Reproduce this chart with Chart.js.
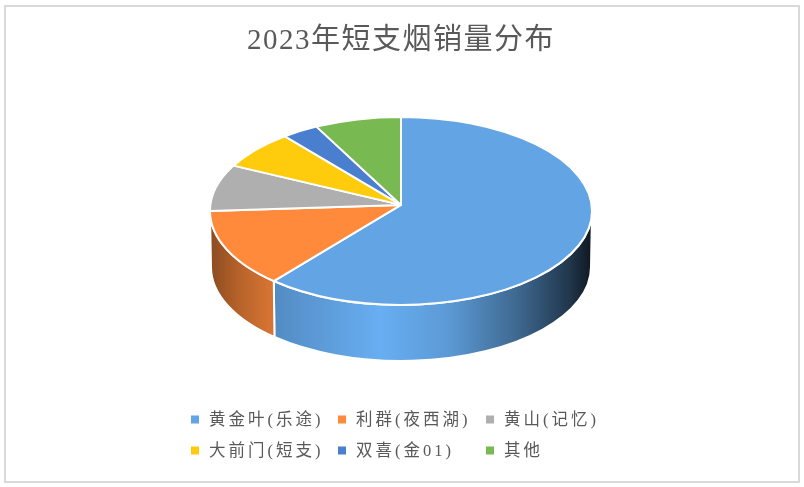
<!DOCTYPE html>
<html><head><meta charset="utf-8">
<style>
html,body{margin:0;padding:0;background:#fff;width:804px;height:487px;overflow:hidden}
#frame{position:absolute;left:4px;top:5px;width:796px;height:478px;border:2px solid #d9d9d9;box-sizing:border-box}
#wrap{position:absolute;left:0;top:0;width:804px;height:487px}
</style>
<script src="https://cdn.jsdelivr.net/npm/chart.js@4/dist/chart.umd.min.js"></script>
</head><body>
<div id="frame"></div>
<div id="wrap"><canvas id="c" width="804" height="487"></canvas></div>
<script>
const titleText = '2023年短支烟销量分布';
const categories = ['黄金叶(乐途)','利群(夜西湖)','黄山(记忆)','大前门(短支)','双喜(金01)','其他'];
const shares = [61.6, 13.4, 8.0, 6.6, 3.1, 7.3];
const colours = ['#62A4E4','#FF8A3C','#AFAFAF','#FFCB0D','#4A7ECF','#78B951'];
const FONT = '"Liberation Serif","Noto Sans CJK SC"';
const TEXT = '#595959';

const squash = 94 / 191, apexLift = 6, depth = 56, baseRx = 190;
const lightX = [211, 240, 273, 380, 450, 520, 570, 592];
const lightK = [.55, .72, .85, 1.06, .93, .62, .33, .14];
const legendCols = [191, 338, 486], legendRows = [421, 452];

function shade(hex, k) {
  const n = parseInt(hex.slice(1), 16);
  const f = v => Math.min(255, Math.round(v * k));
  return `rgb(${f(n >> 16)},${f((n >> 8) & 255)},${f(n & 255)})`;
}

const pie3d = {
  id: 'pie3d',
  beforeLayout(chart) { chart.ctx.letterSpacing = '1.5px'; },
  beforeDraw(chart) { chart.ctx.letterSpacing = '1.5px'; },
  beforeDatasetDraw(chart, args) {
    const ctx = chart.ctx, arcs = args.meta.data;
    ctx.save();
    ctx.lineJoin = 'round';
    ctx.strokeStyle = '#fff';
    ctx.lineWidth = 2;
    arcs.forEach((el, i) => {
      const a0 = Math.max(el.startAngle, 0), a1 = Math.min(el.endAngle, Math.PI);
      if (a1 <= a0) return;
      const r = el.outerRadius, ry = r * squash;
      const g = ctx.createLinearGradient(lightX[0], 0, lightX[lightX.length - 1], 0);
      const span = lightX[lightX.length - 1] - lightX[0];
      lightX.forEach((x, k) => g.addColorStop((x - lightX[0]) / span, shade(colours[i], lightK[k])));
      ctx.beginPath();
      ctx.ellipse(el.x, el.y, r, ry, 0, a0, a1);
      ctx.ellipse(el.x, el.y + depth, baseRx, ry, 0, a1, a0, true);
      ctx.closePath();
      ctx.fillStyle = g;
      ctx.fill();
      ctx.stroke();
    });
    arcs.forEach((el, i) => {
      const r = el.outerRadius;
      ctx.beginPath();
      ctx.moveTo(el.x, el.y - apexLift);
      ctx.ellipse(el.x, el.y, r, r * squash, 0, el.startAngle, el.endAngle);
      ctx.closePath();
      ctx.fillStyle = colours[i];
      ctx.fill();
      ctx.stroke();
    });
    ctx.restore();
    return false;
  },
  afterDraw(chart) {
    const ctx = chart.ctx;
    ctx.save();
    ctx.font = '16.5px ' + FONT;
    ctx.letterSpacing = '3px';
    ctx.textBaseline = 'middle';
    ctx.textAlign = 'left';
    chart.data.labels.forEach((label, i) => {
      const x = legendCols[i % 3], y = legendRows[Math.floor(i / 3)];
      ctx.fillStyle = colours[i];
      ctx.fillRect(x, y - 5.5, 8, 8);
      ctx.fillStyle = TEXT;
      ctx.fillText(label, x + 18, y);
    });
    ctx.restore();
  }
};

new Chart(document.getElementById('c'), {
  type: 'pie',
  data: { labels: categories, datasets: [{ data: shares, backgroundColor: colours, borderColor: '#fff', borderWidth: 2 }] },
  options: {
    responsive: false,
    animation: false,
    radius: 191,
    layout: { padding: { left: 0, right: 2, top: 0, bottom: 124 } },
    plugins: {
      legend: { display: false },
      tooltip: { enabled: false },
      title: {
        display: true, text: titleText, color: TEXT,
        font: { family: FONT, size: 29, weight: 'normal', lineHeight: 1.2 },
        padding: { top: 24, bottom: 0 }
      }
    }
  },
  plugins: [pie3d]
});
</script>
</body></html>
